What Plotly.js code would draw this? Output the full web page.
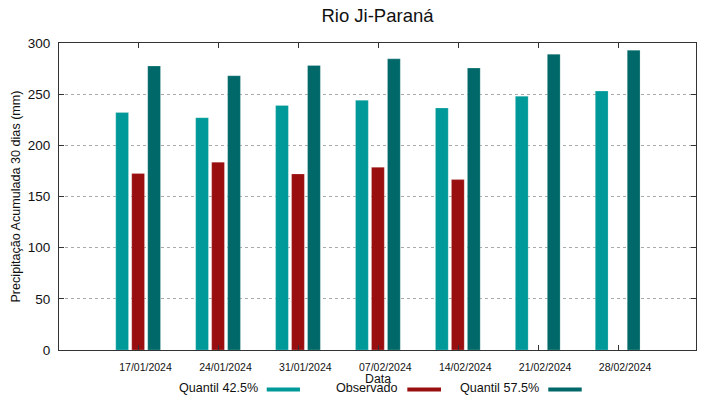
<!DOCTYPE html>
<html>
<head>
<meta charset="utf-8">
<script src="https://cdn.plot.ly/plotly-3.0.1.min.js"></script>
<style>html,body{margin:0;padding:0;background:#fff;}#chart{width:719px;height:399px;}</style>
</head>
<body>
<div id="chart"></div>
<script>
const dates = ["17/01/2024","24/01/2024","31/01/2024","07/02/2024","14/02/2024","21/02/2024","28/02/2024"];
const q425 = [232, 227, 239, 244, 236.5, 248, 253];
const observado = [172.5, 183.5, 172, 178.5, 166.5, null, null];
const q575 = [277.5, 268, 278, 284.5, 275.5, 289, 293];
const seriesNames = ["Quantil 42.5%", "Observado", "Quantil 57.5%"];
const seriesColors = ["#009999", "#990f0f", "#006868"];
const xTitle = "Data";
const yTitle = "Precipitação Acumulada 30 dias (mm)";

const xIdx = dates.map((d, i) => i);
const seriesData = [q425, observado, q575];
const offsets = [-0.285, -0.085, 0.115];

const traces = seriesData.map((vals, s) => ({
  type: "bar",
  x: xIdx,
  y: vals,
  name: seriesNames[s],
  width: 0.16,
  offset: offsets[s],
  marker: {color: seriesColors[s], line: {width: 0.6, color: "rgba(255,255,255,0.35)"}},
  showlegend: false,
  hoverinfo: "x+y"
}));

const font = "Liberation Sans, Arial, sans-serif";
const annotations = [];
const shapes = [];
// x-axis title (placed like the reference, just above the legend row)
annotations.push({
  xref: "paper", yref: "paper", x: 0.5, y: -0.094,
  xanchor: "center", yanchor: "middle", showarrow: false,
  text: xTitle, font: {family: font, size: 12.3, color: "#111"}
});
// legend: text right-aligned, followed by a sample bar
const legendTextRight = [0.3148, 0.5353, 0.7562];
const legendSample = [[0.3261, 0.3783], [0.5468, 0.5997], [0.7681, 0.8206]];
seriesNames.forEach((n, s) => {
  annotations.push({
    xref: "paper", yref: "paper", x: legendTextRight[s], y: -0.1245,
    xanchor: "right", yanchor: "middle", showarrow: false,
    text: n, font: {family: font, size: 12.6, color: "#111"}
  });
  shapes.push({
    type: "line", xref: "paper", yref: "paper",
    x0: legendSample[s][0], x1: legendSample[s][1],
    y0: -0.1287, y1: -0.1287,
    line: {color: seriesColors[s], width: 4}
  });
});

const layout = {
  width: 719, height: 399,
  margin: {l: 59, r: 23, t: 43, b: 49},
  paper_bgcolor: "#fff", plot_bgcolor: "#fff",
  barmode: "overlay",
  title: {text: "Rio Ji-Paraná", x: 0.525, xanchor: "center", y: 0.96, yanchor: "middle",
          font: {family: font, size: 18.5, color: "#111"}},
  xaxis: {
    range: [-0.995, 6.975],
    tickmode: "array", tickvals: xIdx, ticktext: dates,
    ticks: "inside", ticklen: 5, tickcolor: "#333", tickwidth: 1,
    tickfont: {family: font, size: 10.5, color: "#111"},
    ticklabelshift: 7, ticklabelstandoff: 7,
    showgrid: false, zeroline: false,
    showline: true, linecolor: "#333", linewidth: 1, mirror: "ticks"
  },
  yaxis: {
    range: [0, 300], tickvals: [0, 50, 100, 150, 200, 250, 300],
    ticks: "inside", ticklen: 5, tickcolor: "#333",
    tickfont: {family: font, size: 13.5, color: "#111"},
    ticklabelstandoff: 5,
    showgrid: true, gridcolor: "#aaa", griddash: "dot", gridwidth: 1,
    zeroline: false,
    showline: true, linecolor: "#333", linewidth: 1, mirror: "ticks",
    title: {text: yTitle, standoff: 4,
            font: {family: font, size: 12.6, color: "#111"}}
  },
  annotations: annotations,
  shapes: shapes
};

Plotly.newPlot("chart", traces, layout, {displayModeBar: false, staticPlot: true});
</script>
</body>
</html>
